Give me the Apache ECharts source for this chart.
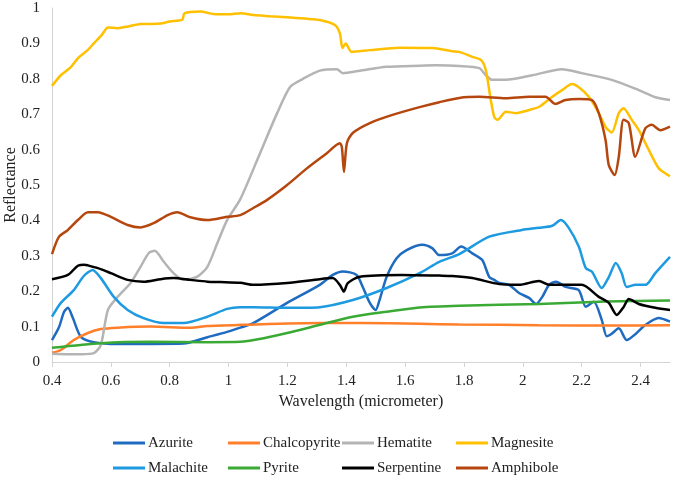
<!DOCTYPE html>
<html>
<head>
<meta charset="utf-8">
<script src="https://cdn.jsdelivr.net/npm/echarts@6/dist/echarts.min.js"></script>
<style>html,body{margin:0;padding:0;background:#fff;}#c{width:673px;height:478px;}</style>
</head>
<body>
<div id="c"></div>
<script>
const seriesNames = ['Azurite','Chalcopyrite','Hematite','Magnesite','Malachite','Pyrite','Serpentine','Amphibole'];
const xTicks = [0.4,0.6,0.8,1,1.2,1.4,1.6,1.8,2,2.2,2.4];
const yTicks = [0,0.1,0.2,0.3,0.4,0.5,0.6,0.7,0.8,0.9,1];

const azurite = [[0.40,0.062],[0.424,0.099],[0.441,0.142],[0.454,0.153],[0.471,0.124],[0.498,0.071],[0.542,0.056],[0.623,0.051],[0.735,0.051],[0.847,0.052],[0.928,0.07],[0.995,0.085],[1.04,0.097],[1.084,0.11],[1.199,0.167],[1.31,0.218],[1.354,0.246],[1.388,0.256],[1.435,0.246],[1.456,0.212],[1.48,0.167],[1.50,0.147],[1.513,0.175],[1.537,0.24],[1.571,0.293],[1.605,0.316],[1.659,0.331],[1.693,0.321],[1.716,0.302],[1.76,0.307],[1.79,0.326],[1.828,0.307],[1.862,0.288],[1.886,0.24],[1.903,0.232],[1.92,0.223],[1.953,0.218],[1.987,0.195],[2.021,0.181],[2.045,0.164],[2.066,0.184],[2.089,0.218],[2.113,0.227],[2.146,0.212],[2.19,0.203],[2.214,0.156],[2.241,0.17],[2.268,0.119],[2.285,0.073],[2.302,0.08],[2.326,0.095],[2.353,0.062],[2.384,0.08],[2.417,0.105],[2.461,0.124],[2.5,0.114]];
const chalcopyrite = [[0.40,0.026],[0.43,0.034],[0.474,0.062],[0.522,0.082],[0.566,0.093],[0.623,0.097],[0.735,0.10],[0.87,0.097],[0.928,0.102],[1.04,0.105],[1.31,0.11],[1.446,0.11],[1.649,0.108],[1.784,0.106],[2.055,0.104],[2.3,0.103],[2.5,0.104]];
const hematite = [[0.40,0.023],[0.45,0.022],[0.50,0.022],[0.542,0.025],[0.566,0.048],[0.59,0.147],[0.623,0.184],[0.667,0.223],[0.701,0.269],[0.729,0.308],[0.749,0.314],[0.78,0.283],[0.813,0.251],[0.847,0.232],[0.894,0.241],[0.928,0.269],[0.962,0.336],[0.995,0.401],[1.04,0.46],[1.107,0.59],[1.165,0.703],[1.209,0.777],[1.253,0.80],[1.31,0.823],[1.368,0.827],[1.388,0.816],[1.446,0.823],[1.537,0.834],[1.649,0.837],[1.706,0.838],[1.784,0.836],[1.852,0.83],[1.874,0.81],[1.896,0.797],[1.942,0.797],[2.032,0.81],[2.133,0.827],[2.2,0.816],[2.302,0.797],[2.394,0.768],[2.45,0.748],[2.5,0.74]];
const magnesite = [[0.40,0.78],[0.43,0.81],[0.464,0.833],[0.49,0.86],[0.521,0.881],[0.542,0.90],[0.57,0.925],[0.59,0.945],[0.623,0.943],[0.66,0.948],[0.701,0.955],[0.74,0.955],[0.769,0.956],[0.80,0.962],[0.843,0.967],[0.85,0.985],[0.904,0.99],[0.948,0.983],[1.0,0.982],[1.04,0.985],[1.084,0.98],[1.14,0.977],[1.199,0.974],[1.26,0.97],[1.31,0.966],[1.361,0.952],[1.378,0.929],[1.387,0.887],[1.398,0.90],[1.418,0.876],[1.48,0.881],[1.581,0.888],[1.693,0.887],[1.76,0.878],[1.784,0.876],[1.828,0.862],[1.858,0.853],[1.874,0.825],[1.891,0.74],[1.903,0.692],[1.914,0.684],[1.942,0.707],[1.976,0.703],[2.022,0.712],[2.056,0.721],[2.10,0.749],[2.133,0.768],[2.167,0.785],[2.19,0.776],[2.224,0.749],[2.258,0.703],[2.281,0.664],[2.302,0.648],[2.326,0.703],[2.342,0.717],[2.37,0.684],[2.394,0.655],[2.428,0.599],[2.462,0.547],[2.5,0.525]];
const malachite = [[0.40,0.128],[0.43,0.167],[0.474,0.203],[0.508,0.243],[0.538,0.26],[0.566,0.237],[0.61,0.184],[0.657,0.147],[0.711,0.124],[0.78,0.11],[0.847,0.11],[0.928,0.128],[0.995,0.15],[1.04,0.155],[1.084,0.155],[1.199,0.153],[1.31,0.155],[1.422,0.175],[1.537,0.209],[1.649,0.251],[1.716,0.283],[1.784,0.305],[1.886,0.354],[1.997,0.373],[2.055,0.379],[2.10,0.385],[2.129,0.401],[2.156,0.379],[2.19,0.326],[2.214,0.265],[2.235,0.255],[2.268,0.209],[2.292,0.24],[2.316,0.28],[2.336,0.251],[2.353,0.212],[2.384,0.218],[2.417,0.218],[2.45,0.251],[2.5,0.297]];
const pyrite = [[0.40,0.04],[0.566,0.053],[0.735,0.057],[0.928,0.056],[1.04,0.057],[1.10,0.064],[1.199,0.082],[1.31,0.105],[1.422,0.128],[1.537,0.142],[1.649,0.154],[1.784,0.159],[2.055,0.164],[2.282,0.171],[2.5,0.174]];
const serpentine = [[0.40,0.234],[0.454,0.246],[0.488,0.272],[0.51,0.275],[0.522,0.273],[0.556,0.265],[0.60,0.251],[0.657,0.232],[0.711,0.227],[0.769,0.234],[0.813,0.237],[0.87,0.232],[0.928,0.227],[0.972,0.226],[1.04,0.224],[1.084,0.218],[1.199,0.223],[1.31,0.234],[1.354,0.237],[1.378,0.218],[1.392,0.199],[1.405,0.223],[1.446,0.241],[1.591,0.246],[1.716,0.244],[1.76,0.243],[1.828,0.237],[1.92,0.22],[1.987,0.218],[2.055,0.229],[2.089,0.218],[2.2,0.218],[2.258,0.184],[2.292,0.167],[2.319,0.133],[2.342,0.155],[2.36,0.178],[2.394,0.164],[2.45,0.153],[2.5,0.147]];
const amphibole = [[0.40,0.305],[0.424,0.354],[0.454,0.373],[0.488,0.401],[0.522,0.423],[0.556,0.423],[0.60,0.41],[0.657,0.387],[0.701,0.38],[0.745,0.392],[0.793,0.415],[0.826,0.423],[0.87,0.409],[0.928,0.401],[0.995,0.41],[1.04,0.415],[1.084,0.435],[1.131,0.458],[1.199,0.50],[1.266,0.547],[1.334,0.59],[1.378,0.618],[1.385,0.607],[1.392,0.537],[1.402,0.618],[1.422,0.647],[1.48,0.675],[1.557,0.698],[1.649,0.72],[1.716,0.734],[1.784,0.746],[1.852,0.749],[1.942,0.745],[2.022,0.749],[2.077,0.749],[2.11,0.729],[2.145,0.74],[2.19,0.743],[2.235,0.74],[2.258,0.703],[2.281,0.627],[2.292,0.556],[2.312,0.528],[2.326,0.58],[2.342,0.684],[2.36,0.675],[2.382,0.58],[2.416,0.66],[2.438,0.67],[2.467,0.655],[2.5,0.665]];

const seriesData = [azurite, chalcopyrite, hematite, magnesite, malachite, pyrite, serpentine, amphibole];
const colors = ['#1F6BC0','#FF7F2A','#B4B4B4','#FFC000','#1E9BE0','#3AAA35','#000000','#B5470E'];

const FONT = "'Liberation Serif','Times New Roman',serif";
const legendCols = [113, 228, 342, 456];
const legendRows = [435, 460];

const chart = echarts.init(document.getElementById('c'), null, {renderer: 'canvas'});
const fmt = v => String(+(+v).toFixed(1));
const option = {
  animation: false,
  backgroundColor: '#fff',
  color: colors,
  textStyle: {fontFamily: FONT},
  grid: {left: 52, right: 3, top: 8, bottom: 116, containLabel: false, outerBoundsMode: 'none'},
  legend: seriesNames.map((n, i) => ({
    data: [n],
    left: legendCols[i % 4],
    top: legendRows[Math.floor(i / 4)],
    padding: 0,
    icon: 'rect',
    itemWidth: 32,
    itemHeight: 3,
    selectedMode: false,
    textStyle: {fontFamily: FONT, fontSize: 15, color: '#222', lineHeight: 16, padding: [0, 0, 0, -2]}
  })),
  xAxis: {
    type: 'value', min: 0.4, max: 2.5, interval: 0.2,
    name: 'Wavelength (micrometer)', nameLocation: 'middle', nameGap: 32, nameMoveOverlap: false,
    nameTextStyle: {fontFamily: FONT, fontSize: 16, color: '#222'},
    axisLine: {show: true, lineStyle: {color: '#d4d4d4', width: 1}},
    axisTick: {show: true, length: 5, lineStyle: {color: '#d4d4d4'}},
    axisLabel: {fontFamily: FONT, fontSize: 15, color: '#222', margin: 12, showMaxLabel: false,
      formatter: v => (xTicks.some(t => Math.abs(t - v) < 1e-6) ? fmt(v) : '')},
    splitLine: {show: false}
  },
  yAxis: {
    type: 'value', min: 0, max: 1, interval: 0.1,
    name: 'Reflectance', nameLocation: 'middle', nameGap: 33, nameRotate: 90, nameMoveOverlap: false,
    nameTextStyle: {fontFamily: FONT, fontSize: 16, color: '#222'},
    axisLine: {show: true, lineStyle: {color: '#d4d4d4', width: 1}},
    axisTick: {show: false},
    axisLabel: {fontFamily: FONT, fontSize: 15, color: '#222', margin: 12,
      formatter: v => (yTicks.some(t => Math.abs(t - v) < 1e-6) ? fmt(v) : '')},
    splitLine: {show: false}
  },
  series: seriesNames.map((n, i) => ({
    name: n,
    type: 'line',
    data: seriesData[i],
    showSymbol: false,
    symbol: 'none',
    smooth: 0.25,
    lineStyle: {width: 2.5, color: colors[i]},
    itemStyle: {color: colors[i]}
  }))
};
chart.setOption(option);
</script>
</body>
</html>
